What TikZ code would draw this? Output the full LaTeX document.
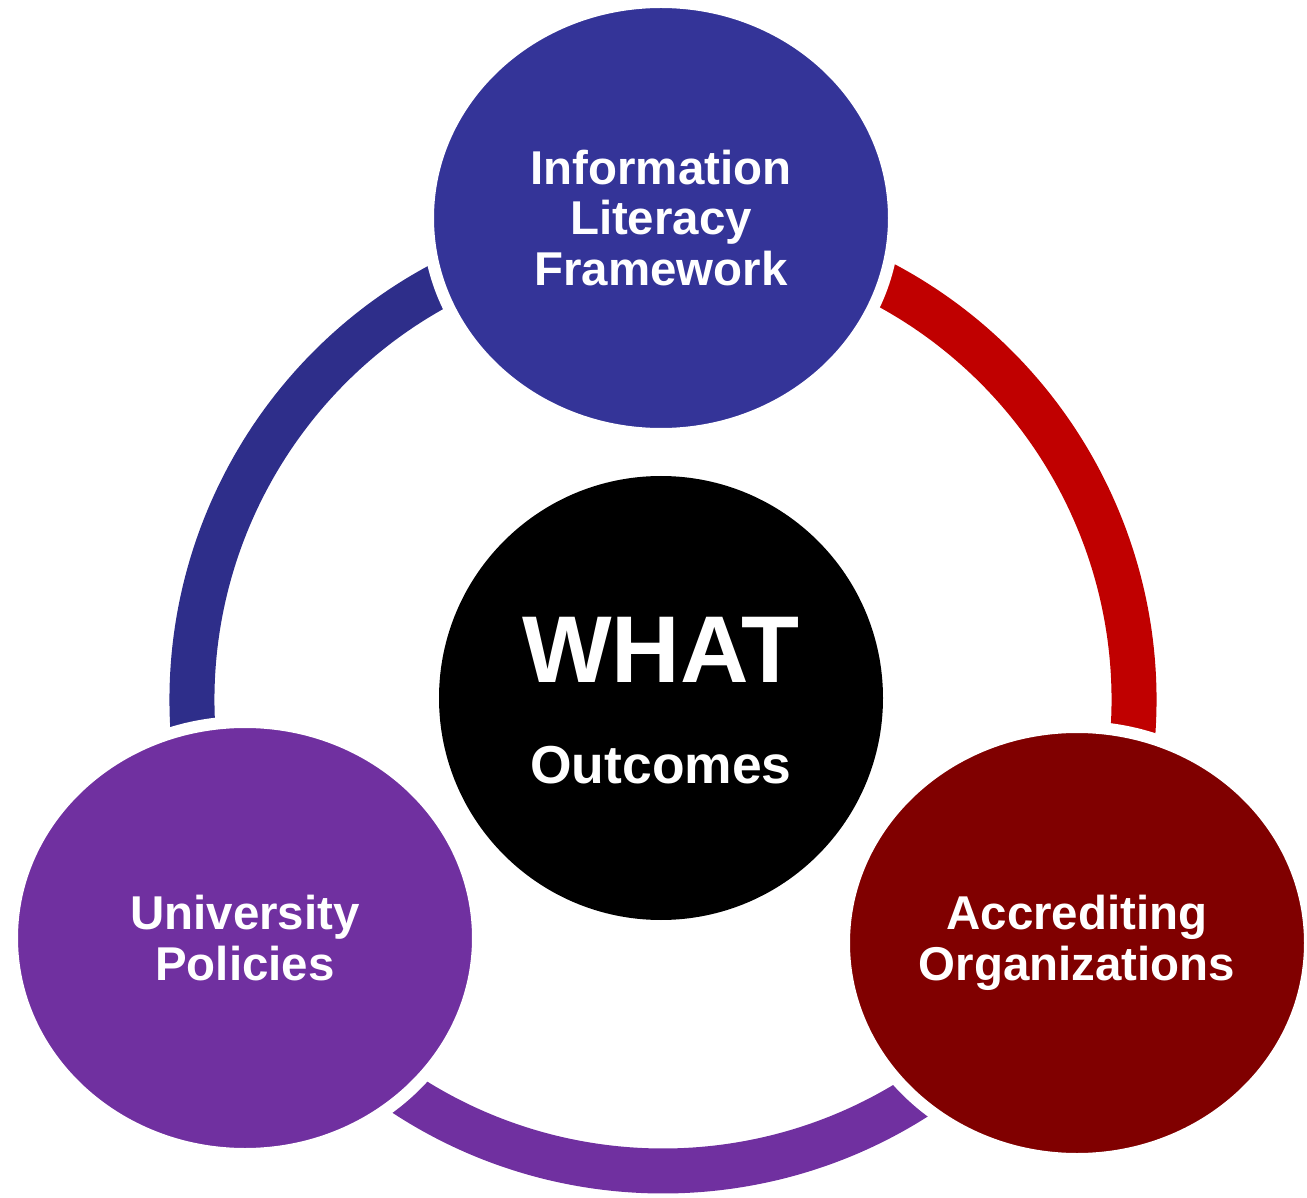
\documentclass[tikz,border=0pt]{standalone}
\usepackage{fontspec}
\setmainfont{Liberation Sans}
\usetikzlibrary{shapes.geometric}

\definecolor{framework}{RGB}{52,52,152}
\definecolor{frameworkarc}{RGB}{46,46,138}
\definecolor{accredarc}{RGB}{192,0,0}
\definecolor{accred}{RGB}{128,0,0}
\definecolor{policies}{RGB}{112,48,160}

\begin{document}
\begin{tikzpicture}[
    bubble/.style={ellipse, draw=white, line width=0.12cm, minimum width=4.66cm, minimum height=4.32cm,
        inner sep=0pt, text=white, align=center, font=\fontsize{13.5}{14.4}\selectfont\bfseries},
    ringarc/.style={line width=0.45cm},
    hubtext/.style={anchor=base, text=white, font=\bfseries}
]

    \useasboundingbox (0,0) rectangle (13.07,11.97);

    % Centre of the big ring
    \coordinate (ring) at (6.63,4.97);

    % The three ring segments, drawn first so the circles cover their ends
    \draw[ringarc, frameworkarc] ([shift={(110:4.71)}]ring) arc[start angle=110, end angle=190, radius=4.71];
    \draw[ringarc, accredarc] ([shift={(70:4.71)}]ring) arc[start angle=70, end angle=-10, radius=4.71];
    \draw[ringarc, policies] ([shift={(230:4.71)}]ring) arc[start angle=230, end angle=310, radius=4.71];

    % The three outer circles
    \node[bubble, fill=framework] (framework) at (6.61,9.79) {Information\\Literacy\\Framework};
    \node[bubble, fill=policies] (policies) at (2.45,2.59) {University\\Policies};
    \node[bubble, fill=accred] (accred) at (10.77,2.54) {Accrediting\\Organizations};

    % The hub in the middle
    \node[circle, fill=black, minimum size=4.44cm, inner sep=0pt] (hub) at (6.61,4.99) {};
    \node[hubtext, font=\fontsize{27}{30}\selectfont\bfseries] (what) at (6.61,5.15) {WHAT};
    \node[hubtext, font=\fontsize{15.2}{16}\selectfont\bfseries] (outcomes) at (6.61,4.14) {Outcomes};

\end{tikzpicture}
\end{document}
